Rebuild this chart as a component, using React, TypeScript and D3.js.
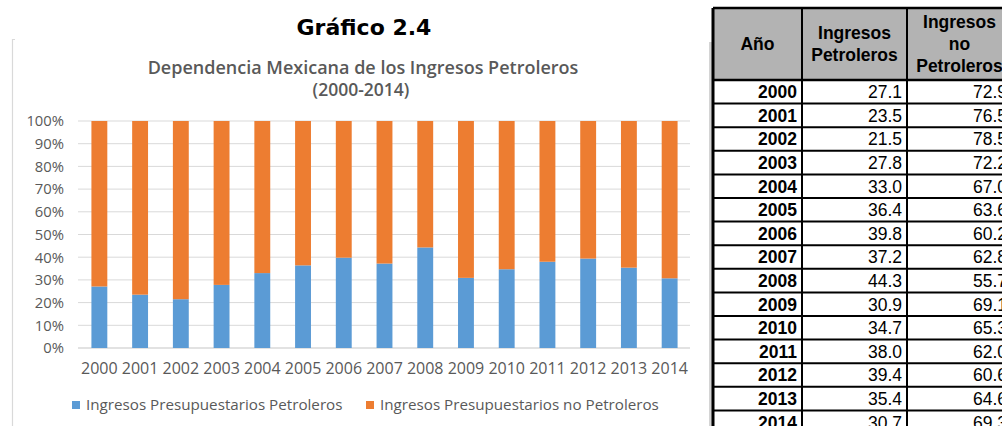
import React from "react";
import * as d3 from "d3";

const years = ["2000", "2001", "2002", "2003", "2004", "2005", "2006", "2007", "2008", "2009", "2010", "2011", "2012", "2013", "2014"];
const petroleros = [27.1, 23.5, 21.5, 27.8, 33.0, 36.4, 39.8, 37.2, 44.3, 30.9, 34.7, 38.0, 39.4, 35.4, 30.7];
const noPetroleros = [72.9, 76.5, 78.5, 72.2, 67.0, 63.6, 60.2, 62.8, 55.7, 69.1, 65.3, 62.0, 60.6, 64.6, 69.3];
const yTicks = [0, 0.1, 0.2, 0.3, 0.4, 0.5, 0.6, 0.7, 0.8, 0.9, 1];
const seriesNames = ["Ingresos Presupuestarios Petroleros", "Ingresos Presupuestarios no Petroleros"];
const tableHeaders = [["Año"], ["Ingresos", "Petroleros"], ["Ingresos", "no", "Petroleros"]];

const W = 1002;
const H = 426;
const BLUE = "#5b9bd5";
const ORANGE = "#ed7d31";
const GRAY = "#595959";
const FONT = "'Open Sans', sans-serif";

export default function App() {
  const x = d3.scaleBand<string>().domain(years).range([79, 690]).paddingInner(0.61).paddingOuter(0.305);
  const y = d3.scaleLinear().domain([0, 1]).range([348, 121]);

  const rows = years.map((yr, i) => {
    const total = petroleros[i] + noPetroleros[i];
    return { yr, p: petroleros[i] / total, n: noPetroleros[i] / total };
  });
  const stack = d3.stack<any>().keys(["p", "n"])(rows);

  // table geometry
  const colX = [713, 802, 907, 1012];
  const headTop = 8;
  const headBottom = 80;
  const rowH = 23.6;
  const rowY = d3.scaleLinear().domain([0, 1]).range([headBottom, headBottom + rowH]);
  const tFont = "'Liberation Sans', Arial, sans-serif";

  return (
    <svg width={W} height={H} style={{ position: "absolute", left: 0, top: 0, background: "#fff" }}>
      {/* chart frame edge */}
      <path d="M15,39.5 H12.5 V426" fill="none" stroke="#d9d9d9" strokeWidth={1.2} />

      <text x={364} y={35} textAnchor="middle" fontFamily="'DejaVu Sans', sans-serif" fontWeight="bold" fontSize={22} fill="#000">
        Gráfico 2.4
      </text>
      <text x={363} y={74} textAnchor="middle" fontFamily={FONT} fontWeight={600} fontSize={18} fill={GRAY}>
        Dependencia Mexicana de los Ingresos Petroleros
      </text>
      <text x={361} y={96} textAnchor="middle" fontFamily={FONT} fontWeight={600} fontSize={17.5} fill={GRAY}>
        (2000-2014)
      </text>

      {/* grid + y labels */}
      {yTicks.map((t) => (
        <g key={t}>
          <line x1={78} x2={690} y1={y(t)} y2={y(t)} stroke="#d9d9d9" strokeWidth={t === 0 ? 1.6 : 1} />
          <text x={64} y={y(t)} dy="0.36em" textAnchor="end" fontFamily={FONT} fontSize={14.8} fill={GRAY}>
            {d3.format(".0%")(t)}
          </text>
        </g>
      ))}

      {/* bars */}
      {stack.map((s, si) => (
        <g key={si} fill={si === 0 ? BLUE : ORANGE}>
          {s.map((d, i) => (
            <rect key={i} x={x(years[i])} width={x.bandwidth()} y={y(d[1])} height={y(d[0]) - y(d[1])} />
          ))}
        </g>
      ))}

      {/* x labels */}
      {years.map((yr) => (
        <text key={yr} x={(x(yr) as number) + x.bandwidth() / 2} y={374} textAnchor="middle" fontFamily={FONT} fontSize={16} fill={GRAY}>
          {yr}
        </text>
      ))}

      {/* legend */}
      {seriesNames.map((name, i) => {
        const lx = i === 0 ? 72 : 366;
        return (
          <g key={name}>
            <rect x={lx} y={401} width={8} height={8} fill={i === 0 ? BLUE : ORANGE} />
            <text x={lx + 14} y={410} fontFamily={FONT} fontSize={15.2} fill={GRAY}>
              {name}
            </text>
          </g>
        );
      })}

      {/* table */}
      <rect x={709} y={42} width={3} height={H - 42} fill="#d4d4d4" />
      <rect x={colX[0]} y={headTop} width={W - colX[0]} height={headBottom - headTop} fill="#b3b3b3" />
      {tableHeaders.map((lines, ci) => {
        const cx = (colX[ci] + colX[ci + 1]) / 2;
        const lh = 22;
        const mid = (headTop + headBottom) / 2;
        const start = mid - ((lines.length - 1) * lh) / 2;
        return lines.map((ln, li) => (
          <text key={ci + "-" + li} x={cx} y={start + li * lh} dy="0.36em" textAnchor="middle" fontFamily={tFont} fontWeight="bold" fontSize={17.5} fill="#000">
            {ln}
          </text>
        ));
      })}
      {rows.map((r, i) => {
        const ty = rowY(i) + rowH / 2;
        return (
          <g key={r.yr}>
            <text x={colX[1] - 5} y={ty} dy="0.36em" textAnchor="end" fontFamily={tFont} fontWeight="bold" fontSize={17.5} fill="#000">
              {r.yr}
            </text>
            <text x={colX[2] - 5} y={ty} dy="0.36em" textAnchor="end" fontFamily={tFont} fontSize={17.5} fill="#000">
              {d3.format(".1f")(petroleros[i])}
            </text>
            <text x={colX[3] - 5} y={ty} dy="0.36em" textAnchor="end" fontFamily={tFont} fontSize={17.5} fill="#000">
              {d3.format(".1f")(noPetroleros[i])}
            </text>
            <line x1={colX[0]} x2={W} y1={rowY(i + 1)} y2={rowY(i + 1)} stroke="#000" strokeWidth={2} />
          </g>
        );
      })}
      <line x1={colX[0]} x2={W} y1={headTop} y2={headTop} stroke="#000" strokeWidth={2.5} />
      <line x1={colX[0]} x2={W} y1={headBottom} y2={headBottom} stroke="#000" strokeWidth={2.5} />
      {colX.slice(0, 3).map((cx, i) => (
        <line key={i} x1={cx} x2={cx} y1={headTop} y2={H} stroke="#000" strokeWidth={i === 0 ? 3 : 2} />
      ))}
    </svg>
  );
}
